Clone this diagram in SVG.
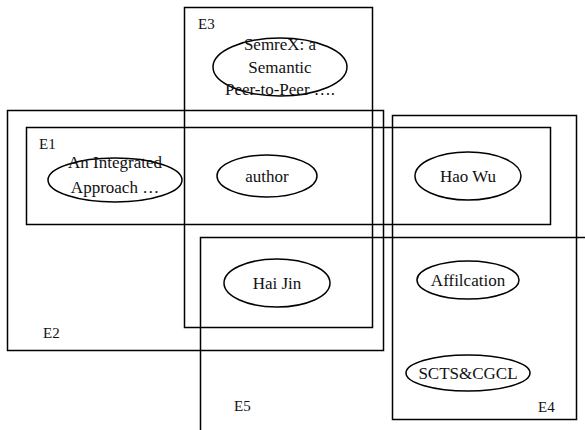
<svg xmlns="http://www.w3.org/2000/svg" width="585" height="430" viewBox="0 0 585 430">
<style>
.box{fill:none;stroke:#000;stroke-width:1.5}
.ell{fill:#fff;stroke:#000;stroke-width:1.5}
.ellT{fill:none;stroke:#000;stroke-width:1.5}
text{font-family:"Liberation Serif","Times New Roman",serif;fill:#111}
.lab{font-size:15px}
.nt{font-size:17px;text-anchor:middle}
</style>
<rect width="585" height="430" fill="#fff"/>
<g id="connectors"></g>
<g id="E3"><rect class="box" x="184.5" y="7.5" width="188" height="320"/><text class="lab" x="198" y="29">E3</text></g>
<g id="E2"><rect class="box" x="7.5" y="110.5" width="376" height="240"/><text class="lab" x="43" y="338">E2</text></g>
<g id="E1"><rect class="box" x="26.5" y="127.5" width="524" height="97"/><text class="lab" x="39" y="149">E1</text></g>
<g id="E4"><rect class="box" x="392.5" y="115.5" width="184" height="304"/><text class="lab" x="538" y="412">E4</text></g>
<g id="E5"><path class="box" d="M200.5,432 V237.5 H590"/><text class="lab" x="234" y="411">E5</text></g>
<g id="n-semrex"><ellipse class="ellT" cx="280" cy="67" rx="67" ry="29"/><text class="nt" x="280" y="50">SemreX: a</text><text class="nt" x="280" y="73">Semantic</text><text class="nt" x="280" y="95">Peer-to-Peer ….</text></g>
<g id="n-integrated"><ellipse class="ellT" cx="115" cy="180" rx="67" ry="22"/><text class="nt" x="115" y="168">An Integrated</text><text class="nt" x="115" y="193">Approach …</text></g>
<g id="n-author"><ellipse class="ellT" cx="267" cy="176" rx="50" ry="21"/><text class="nt" x="267" y="182">author</text></g>
<g id="n-haowu"><ellipse class="ellT" cx="468" cy="176" rx="53" ry="24"/><text class="nt" x="468" y="182">Hao Wu</text></g>
<g id="n-haijin"><ellipse class="ellT" cx="277" cy="283" rx="53" ry="24"/><text class="nt" x="277" y="289">Hai Jin</text></g>
<g id="n-affil"><ellipse class="ellT" cx="468" cy="280" rx="51" ry="19"/><text class="nt" x="468" y="286">Affilcation</text></g>
<g id="n-scts"><ellipse class="ellT" cx="468" cy="373" rx="62" ry="18"/><text class="nt" x="468" y="379">SCTS&amp;CGCL</text></g>
</svg>
